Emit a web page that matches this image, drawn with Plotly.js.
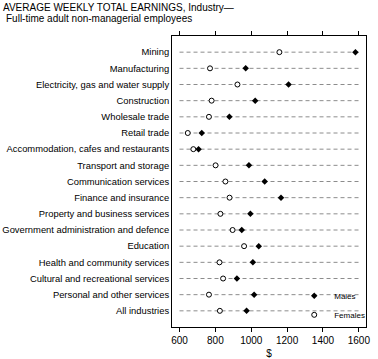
<!DOCTYPE html>
<html>
<head>
<meta charset="utf-8">
<script src="https://cdn.plot.ly/plotly-3.0.1.min.js"></script>
<style>html,body{margin:0;padding:0;background:#fff;}#chart{width:378px;height:359px;}</style>
</head>
<body>
<div id="chart"></div>
<script>
var categories = [
  "Mining",
  "Manufacturing",
  "Electricity, gas and water supply",
  "Construction",
  "Wholesale trade",
  "Retail trade",
  "Accommodation, cafes and restaurants",
  "Transport and storage",
  "Communication services",
  "Finance and insurance",
  "Property and business services",
  "Government administration and defence",
  "Education",
  "Health and community services",
  "Cultural and recreational services",
  "Personal and other services",
  "All industries"
];
var males = [1581, 969, 1208, 1022, 878, 724, 706, 987, 1075, 1166, 995, 947, 1042, 1009, 920, 1016, 974];
var females = [1157, 770, 923, 779, 764, 646, 677, 801, 856, 879, 828, 896, 960, 823, 843, 764, 825];
var xTicks = [600, 800, 1000, 1200, 1400, 1600];
var titleLine1 = 'AVERAGE WEEKLY TOTAL EARNINGS, Industry—';
var titleLine2 = 'Full-time adult non-managerial employees';

var FONT = '"Liberation Sans Narrow", "Arial Narrow", "Liberation Sans", Arial, sans-serif';

var shapes = categories.map(function (c) {
  return {
    type: 'line', xref: 'x', yref: 'y', layer: 'below',
    x0: xTicks[0], x1: xTicks[xTicks.length - 1], y0: c, y1: c,
    line: {color: '#8c8c8c', width: 1, dash: '4px,3px'}
  };
});

var traces = [
  {
    type: 'scatter', mode: 'markers', name: 'Males',
    x: males, y: categories,
    marker: {symbol: 'diamond', size: 5, color: '#000000'}
  },
  {
    type: 'scatter', mode: 'markers', name: 'Females',
    x: females, y: categories,
    marker: {symbol: 'circle', size: 5, color: '#ffffff', line: {color: '#000000', width: 1}}
  }
];

var layout = {
  width: 378, height: 359,
  margin: {l: 172, r: 8, t: 36, b: 32},
  paper_bgcolor: '#ffffff', plot_bgcolor: '#ffffff',
  font: {family: FONT, size: 10, color: '#000000'},
  title: {
    text: titleLine1,
    font: {family: FONT, size: 10, color: '#000000'},
    x: 0.008, xanchor: 'left', xref: 'container',
    y: 1 - 7.5 / 359, yanchor: 'middle', yref: 'container'
  },
  annotations: [{
    text: titleLine2, showarrow: false,
    xref: 'paper', yref: 'paper',
    x: (1 - 172) / 198, xanchor: 'left',
    y: 1 + (36 - 18) / 291, yanchor: 'middle',
    font: {family: FONT, size: 10, color: '#000000'}
  }],
  xaxis: {
    range: [558, 1640],
    tickvals: xTicks,
    ticktext: xTicks.map(String),
    ticks: 'outside', ticklen: 4, tickcolor: '#000000', tickwidth: 1,
    showline: true, linecolor: '#000000', linewidth: 1, mirror: 'ticks',
    showgrid: false, zeroline: false,
    tickfont: {family: FONT, size: 10},
    title: {text: '$', font: {family: FONT, size: 10}, standoff: 4}
  },
  yaxis: {
    type: 'category',
    range: [categories.length, -1],
    ticks: '', showline: true, linecolor: '#000000', linewidth: 1, mirror: true,
    showgrid: false, zeroline: false,
    tickfont: {family: FONT, size: 9.4}
  },
  shapes: shapes,
  showlegend: true,
  legend: {
    x: 0.63, xanchor: 'left', y: -0.008, yanchor: 'bottom',
    bgcolor: 'rgba(0,0,0,0)', borderwidth: 0,
    font: {family: FONT, size: 8, color: '#000000'}, itemwidth: 30
  }
};

Plotly.newPlot('chart', traces, layout, {displayModeBar: false, staticPlot: true});
</script>
</body>
</html>
